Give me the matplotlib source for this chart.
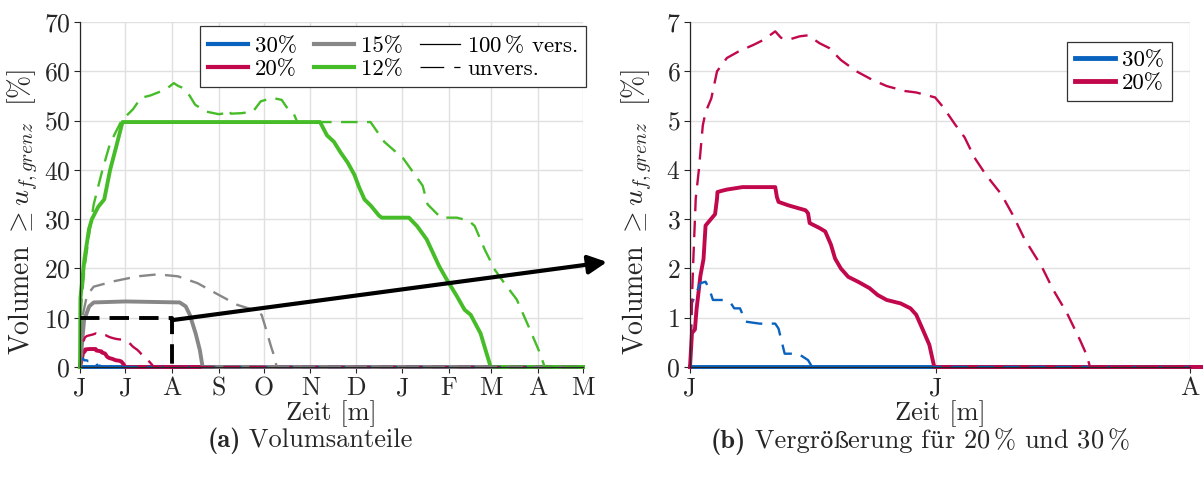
import matplotlib
matplotlib.use("Agg")
import matplotlib.pyplot as plt
from matplotlib.patches import ConnectionPatch
from matplotlib.lines import Line2D
from matplotlib.offsetbox import TextArea, HPacker, AnchoredOffsetbox

plt.rcParams['font.family'] = ['cmr10', 'DejaVu Serif']
plt.rcParams['mathtext.fontset'] = 'cm'
plt.rcParams['axes.formatter.use_mathtext'] = True
plt.rcParams['axes.unicode_minus'] = False

# --- data: x in days since 1 June, y in % of volume ---
month_labels = ['J', 'J', 'A', 'S', 'O', 'N', 'D', 'J', 'F', 'M', 'A', 'M']
month_days = [30, 31, 31, 30, 31, 30, 31, 31, 28, 31, 30]

days_30_vers = [0, 334]
vol_30_vers = [0, 0]
days_30_unv = [0, 0.24, 1.27, 1.9, 2.4, 2.8, 4.2, 5.0, 5.4, 6.1, 6.8, 8.5, 10.4,
               10.8, 11.55, 13.2, 14.4, 14.9, 334]
vol_30_unv = [0, 1.3, 1.7, 1.73, 1.56, 1.36, 1.36, 1.29, 1.19, 1.19, 0.92, 0.88, 0.88,
              0.78, 0.27, 0.27, 0.14, 0, 0]

days_20_vers = [0, 0.24, 0.6, 0.8, 1.27, 1.65, 1.9, 2.6, 3.06, 3.3, 3.35, 4.0, 4.5,
                6.4, 10.4, 10.6, 10.8, 12.0, 14.1, 14.4, 14.6, 15.8, 16.5, 17.2,
                17.7, 18.4, 19.3, 20.5, 21.9, 22.9, 24.0, 25.7, 26.9, 27.6, 28.5,
                29.2, 29.8, 334]
vol_20_vers = [0, 0.69, 0.76, 1.17, 1.85, 2.19, 2.87, 3.01, 3.1, 3.42, 3.55, 3.58, 3.6,
               3.65, 3.65, 3.45, 3.35, 3.28, 3.18, 3.12, 2.92, 2.82, 2.75, 2.48,
               2.2, 2.0, 1.83, 1.73, 1.6, 1.46, 1.36, 1.29, 1.19, 1.06, 0.72,
               0.45, 0, 0]
days_20_unv = [0, 0.24, 0.4, 0.7, 1.08, 1.56, 1.9, 2.6, 3.3, 4.5, 5.9, 7.8, 9.0, 10.4,
               11.1, 12.0, 13.4, 14.4, 15.8, 17.0, 18.4, 20.3, 22.2, 24.0, 26.2,
               27.6, 29.9, 30.9, 32.3, 33.5, 34.7, 36.1, 38.0, 39.4, 40.8, 42.9,
               44.3, 46.0, 47.6, 48.4, 48.8, 334]
vol_20_unv = [0, 1.4, 2.15, 3.42, 4.0, 4.9, 5.17, 5.45, 6.0, 6.27, 6.4, 6.54, 6.64, 6.81,
              6.68, 6.64, 6.71, 6.73, 6.57, 6.47, 6.23, 6.0, 5.83, 5.7, 5.6,
              5.57, 5.47, 5.27, 4.93, 4.66, 4.25, 3.9, 3.5, 3.08, 2.6, 2.04,
              1.57, 1.09, 0.54, 0.24, 0, 0]

days_15_vers = [0, 2.7, 6.1, 9.1, 30.4, 66.2, 70.2, 72.9, 76.8, 79.6, 81.4, 334]
vol_15_vers = [0, 9.5, 12.3, 13.1, 13.3, 13.1, 12.3, 10.6, 6.8, 3.4, 0, 0]
days_15_unv = [0, 1.5, 4.6, 9.1, 22.5, 38.3, 51.6, 65.0, 78.1, 89.9, 104.5, 115.1,
               120.6, 123.0, 126.9, 129.1, 130.6, 334]
vol_15_unv = [0, 10, 14.5, 16.3, 17.4, 18.4, 18.8, 18.4, 17.0, 15.0, 12.6, 11.6,
              10.6, 8.2, 4.1, 2.1, 0, 0]

days_12_vers = [0, 0.3, 3.0, 6.0, 7.9, 12.1, 16.1, 20.0, 24.3, 28.2, 159.4, 164.0,
                168.6, 173.1, 177.7, 182.2, 185.3, 188.9, 193.2, 198.6, 200.4,
                218.4, 223.8, 230.2, 238.4, 243.6, 250.2, 255.4, 259.4, 266.0,
                272.7, 334]
vol_12_vers = [0, 14, 22, 28, 30, 32.5, 34, 40, 45, 49.7, 49.7, 47,
               45.7, 43.5, 41.5, 39, 36.5, 34, 32.7, 30.7, 30.3,
               30.3, 28.6, 25.9, 20.5, 17.7, 14.4, 11.6, 10.6, 6.8,
               0, 0]
days_12_unv = [0, 0.6, 3.0, 6.1, 9.1, 14.9, 20.0, 27.6, 35.2, 40.4, 46.8, 53.5, 57.7,
               62.3, 65.3, 68.6, 72.9, 76.5, 84.1, 92.0, 97.2, 99.0, 100.2, 107.2,
               114.8, 120.0, 127.6, 133.9, 137.9, 141.8, 144.3, 192.9, 202.0,
               214.7, 227.5, 230.8, 239.6, 250.2, 258.1, 262.1, 268.8, 275.5,
               281.8, 290.0, 297.9, 304.6, 308.6, 334]
vol_12_unv = [0, 12, 20, 27, 33, 40, 45.4, 50, 52.3, 54.6, 55.1, 55.9, 56.5,
              57.6, 57, 56.6, 55, 53.2, 51.8, 51.3, 51.5, 52.1, 51.4, 51.5,
              51.8, 53.9, 54.6, 54.2, 52.4, 51.5, 49.7, 49.7, 45.7,
              42.3, 36.8, 33, 30.3, 30.3, 29.7, 28.6, 23.8, 19.7,
              17, 13.7, 8.2, 3.4, 0, 0]

c_blue = '#0a62bf'
c_red = '#c2084c'
c_gray = '#878787'
c_green = '#46bd28'
text_col = '#262626'
grid_col = '#e0e0e0'

lw_solid = 2.8
lw_dash = 1.7
dash = (0, (7, 4))
fs_tick = 18.5
fs_label = 19
fs_ylabel = 20
fs_leg = 16.5

tick_pos = [0]
for d in month_days:
    tick_pos.append(tick_pos[-1] + d)

fig = plt.figure(figsize=(12.03, 4.86), dpi=100)
ax1 = fig.add_axes([80 / 1203, 1 - 367 / 486, 503 / 1203, 345 / 486])
ax2 = fig.add_axes([690 / 1203, 1 - 367 / 486, 500 / 1203, 345 / 486])


def style_axes(ax, label_x):
    for side in ('top', 'right'):
        ax.spines[side].set_visible(False)
    for side in ('left', 'bottom'):
        ax.spines[side].set_color(text_col)
        ax.spines[side].set_linewidth(0.9)
    ax.grid(True, color=grid_col, linewidth=1.0)
    ax.set_axisbelow(True)
    ax.tick_params(direction='out', length=4, width=0.8, colors=text_col,
                   labelsize=fs_tick, pad=3)
    ax.set_xlabel('Zeit [m]', fontsize=fs_label, color=text_col, labelpad=0)
    ax.set_ylabel(r'Volumen $\geq u_{f,grenz}$ $\;$[%]', fontsize=fs_ylabel,
                  color=text_col)
    ax.yaxis.set_label_coords(label_x, 0.45)


def legend_box(ax, handles, labels, anchor, ncol):
    leg = ax.legend(handles, labels, ncol=ncol, loc='upper right',
                    bbox_to_anchor=anchor, fontsize=fs_leg, frameon=True,
                    fancybox=False, edgecolor='#333333', framealpha=1,
                    handlelength=1.75, handletextpad=0.3, columnspacing=0.75,
                    labelspacing=0.12, borderpad=0.35, borderaxespad=0)
    leg.get_frame().set_linewidth(0.9)
    return leg


# ---- (a) full period ----
solids = [(days_30_vers, vol_30_vers, c_blue), (days_20_vers, vol_20_vers, c_red),
          (days_15_vers, vol_15_vers, c_gray), (days_12_vers, vol_12_vers, c_green)]
dashed = [(days_30_unv, vol_30_unv, c_blue), (days_20_unv, vol_20_unv, c_red),
          (days_15_unv, vol_15_unv, c_gray), (days_12_unv, vol_12_unv, c_green)]

for x, y, c in solids:
    ax1.plot(x, y, color=c, lw=lw_solid, clip_on=False)
for x, y, c in dashed:
    ax1.plot(x, y, color=c, lw=lw_dash, linestyle=dash, clip_on=False)

ax1.set_xlim(0, tick_pos[-1])
ax1.set_ylim(0, 70)
ax1.set_xticks(tick_pos)
ax1.set_xticklabels(month_labels)
ax1.set_yticks(range(0, 71, 10))
style_axes(ax1, -0.08)

# zoom window marker
ax1.plot([0, tick_pos[2], tick_pos[2]], [10, 10, 0], color='black', lw=2.8,
         linestyle=(0, (5, 2.6)), clip_on=False, zorder=5)

leg_handles = [Line2D([], [], color=c_blue, lw=3), Line2D([], [], color=c_red, lw=3),
               Line2D([], [], color=c_gray, lw=3), Line2D([], [], color=c_green, lw=3),
               Line2D([], [], color='black', lw=0.9),
               Line2D([], [], color='black', lw=0.9, linestyle=(0, (19, 8)))]
leg_labels = ['30%', '20%', '15%', '12%', '100$\\,$% vers.', 'unvers.']
legend_box(ax1, leg_handles, leg_labels, (1.006, 0.988), 3)

# ---- (b) zoom on June / July ----
for x, y, c in solids[:2]:
    ax2.plot(x, y, color=c, lw=lw_solid, clip_on=False)
for x, y, c in dashed[:2]:
    ax2.plot(x, y, color=c, lw=lw_dash, linestyle=dash, clip_on=True)
ax2.set_xlim(0, tick_pos[2])
ax2.set_ylim(0, 7)
ax2.set_xticks(tick_pos[:3])
ax2.set_xticklabels(month_labels[:3])
ax2.set_yticks(range(0, 8))
style_axes(ax2, -0.072)
legend_box(ax2, [Line2D([], [], color=c_blue, lw=3.5), Line2D([], [], color=c_red, lw=3.5)],
           ['30%', '20%'], (0.964, 0.942), 1)

# arrow linking the window to panel (b)
arrow = ConnectionPatch(xyA=(tick_pos[2], 9.5), coordsA=ax1.transData,
                        xyB=(607 / 1203, 1 - 262 / 486), coordsB=fig.transFigure,
                        arrowstyle='-|>', mutation_scale=28, lw=3.0,
                        color='black', zorder=10)
fig.add_artist(arrow)


# panel captions: bold tag + text; umlauts and sharp s come from DejaVu Serif
def caption(parts, x, y):
    boxes = []
    for txt, kind in parts:
        if kind == 'bold':
            props = dict(family='cmb10', fontsize=fs_label, color=text_col)
        elif kind == 'alt':
            props = dict(family='DejaVu Serif', fontsize=fs_label * 0.86, color=text_col)
        else:
            props = dict(family='cmr10', fontsize=fs_label, color=text_col)
        boxes.append(TextArea(txt, textprops=props))
    pack = HPacker(children=boxes, align='baseline', pad=0, sep=0)
    anchored = AnchoredOffsetbox(loc='center', child=pack, frameon=False, pad=0,
                                 borderpad=0, bbox_to_anchor=(x, y),
                                 bbox_transform=fig.transFigure)
    fig.add_artist(anchored)


caption([('(a)', 'bold'), (' Volumsanteile', 'rm')], 310 / 1203, 1 - 441 / 486)
caption([('(b)', 'bold'), (' Vergr', 'rm'), ('ö', 'alt'), ('ß', 'alt'),
         ('erung f', 'rm'), ('ü', 'alt'), ('r 20$\\,$% und 30$\\,$%', 'rm')],
        920 / 1203, 1 - 441 / 486)

fig.savefig('out.png', dpi=100)
